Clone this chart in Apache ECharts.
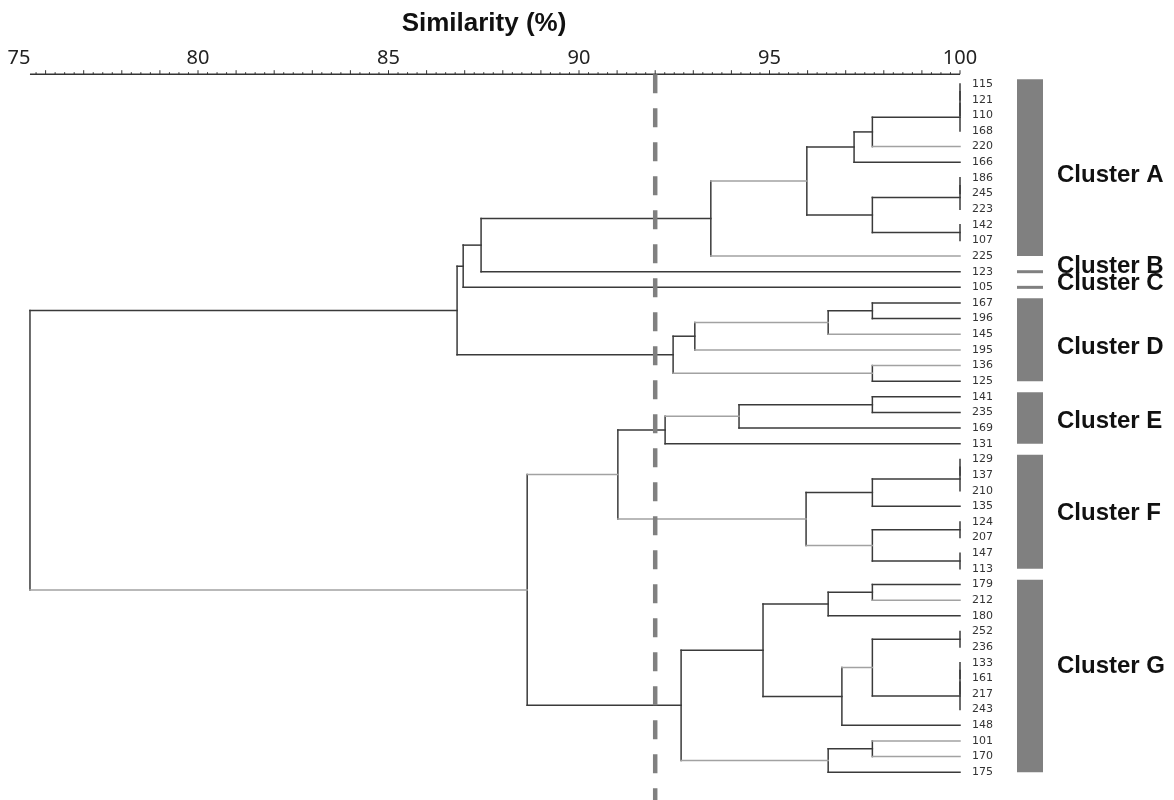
<!DOCTYPE html>
<html>
<head>
<meta charset="utf-8">
<script src="https://cdn.jsdelivr.net/npm/echarts@6/dist/echarts.min.js"></script>
<style>html,body{margin:0;padding:0;background:#fff}#c{width:1174px;height:800px}</style>
</head>
<body>
<div id="c"></div>
<script>
// ---------------- data ----------------
const leaves = ['115','121','110','168','220','166','186','245','223','142','107','225','123','105',
  '167','196','145','195','136','125','141','235','169','131',
  '129','137','210','135','124','207','147','113',
  '179','212','180','252','236','133','161','217','243','148','101','170','175'];

// [node id, child 1, child 2, similarity %]
const merges = [
  ['a1','115','121',100], ['a2','a1','110',100], ['a3','a2','168',100],
  ['a4','a3','220',97.7], ['a5','a4','166',97.22],
  ['a6','186','245',100], ['a7','a6','223',100], ['a8','142','107',100],
  ['a9','a7','a8',97.7], ['a10','a5','a9',95.98], ['a11','a10','225',93.46],
  ['ab','a11','123',87.43], ['abc','ab','105',86.96],
  ['d1','167','196',97.7], ['d2','d1','145',96.54], ['d3','d2','195',93.04],
  ['d4','136','125',97.7], ['d5','d3','d4',92.47],
  ['abcd','abc','d5',86.8],
  ['e1','141','235',97.7], ['e2','e1','169',94.2], ['e3','e2','131',92.26],
  ['f1','129','137',100], ['f2','f1','210',100], ['f3','f2','135',97.7],
  ['f4','124','207',100], ['f5','147','113',100], ['f6','f4','f5',97.7],
  ['f7','f3','f6',95.96], ['ef','e3','f7',91.02],
  ['g1','179','212',97.7], ['g2','g1','180',96.54],
  ['g3','252','236',100], ['g4','133','161',100], ['g5','g4','217',100], ['g6','g5','243',100],
  ['g7','g3','g6',97.7], ['g8','g7','148',96.9], ['g9','g2','g8',94.83],
  ['g10','101','170',97.7], ['g11','g10','175',96.54], ['g12','g9','g11',92.68],
  ['efg','ef','g12',88.64],
  ['root','abcd','efg',75.59]
];

const cutoff = 92;
const axisMin = 75, axisMax = 100, tickStep = 1, minorPerTick = 4, labelStep = 5;

// [cluster name, first leaf, last leaf]
const clusters = [
  ['Cluster A','115','225'], ['Cluster B','123','123'], ['Cluster C','105','105'],
  ['Cluster D','167','125'], ['Cluster E','141','131'], ['Cluster F','129','113'],
  ['Cluster G','179','175']
];

// ---------------- layout / style ----------------
const clusterLabelRow = [5.82, 11.68, 12.72, 16.82, 21.58, 27.43, 37.21];
const lightBranches = new Set(['220','a10','225','d2','145','195','136','d4','e2','ef','f7','f6','efg','g7','g11','101','170','212']);
const DARK = '#3a3a3a', LIGHT = '#a2a2a2';
const AXIS_OFFSET = 2;

// ---------------- build tree segments ----------------
const pos = {};
leaves.forEach((n, i) => { pos[n] = { x: axisMax, y: i }; });
merges.forEach(([id, a, b, s]) => { pos[id] = { x: s, y: (pos[a].y + pos[b].y) / 2 }; });
const segs = [];
merges.forEach(([id, a, b, s]) => {
  segs.push([s, pos[a].y, s, pos[b].y, 0]);
  [a, b].forEach(c => {
    if (pos[c].x > s) segs.push([s, pos[c].y, pos[c].x, pos[c].y, lightBranches.has(c) ? 1 : 0]);
  });
});
const rootSim = pos['root'].x;
const leafIndex = {};
leaves.forEach((n, i) => { leafIndex[n] = i; });
const clusterData = clusters.map(([name, f, l], i) => [leafIndex[f], leafIndex[l], clusterLabelRow[i]]);

// scale bar ticks drawn from the root similarity up to 100 (as in the original scale bar)
const minorStep = tickStep / minorPerTick;
const tickData = [];
for (let k = Math.ceil(rootSim / minorStep); k * minorStep <= axisMax + 1e-9; k++) {
  const v = +(k * minorStep).toFixed(4);
  tickData.push([v, Math.abs(v - Math.round(v)) < 1e-9 ? 1 : 0]);
}

// ---------------- chart ----------------
const chart = echarts.init(document.getElementById('c'), null, { renderer: 'canvas' });
const rowsTop = -0.5, rowsBottom = leaves.length - 0.5;

chart.setOption({
  animation: false,
  backgroundColor: '#fff',
  grid: { left: 7.5, right: 214, top: 76.2, bottom: 20 },
  graphic: [{
    type: 'text', x: 484, y: 24, z: 10,
    style: { text: 'Similarity (%)', font: 'bold 26px "Liberation Sans", Arial, sans-serif',
      fill: '#111', textAlign: 'center', textVerticalAlign: 'middle', align: 'center', verticalAlign: 'middle' }
  }],
  xAxis: {
    type: 'value', position: 'top', offset: AXIS_OFFSET,
    min: axisMin, max: axisMax, interval: tickStep,
    splitLine: { show: false },
    axisLine: { show: false },
    axisTick: { show: false },
    minorTick: { show: false },
    axisLabel: {
      show: true, margin: 6, fontSize: 20, color: '#222', fontFamily: '"Noto Sans", "Open Sans", sans-serif',
      alignMinLabel: 'left',
      formatter: v => (Math.abs(v % labelStep) < 1e-9 ? String(v) : '')
    }
  },
  yAxis: [
    { type: 'value', inverse: true, min: rowsTop, max: rowsBottom, show: false },
    { type: 'category', inverse: true, data: leaves, position: 'right',
      axisLine: { show: false }, axisTick: { show: false }, splitLine: { show: false },
      axisLabel: { margin: 12, fontSize: 11, color: '#333', fontFamily: '"DejaVu Sans", Verdana, sans-serif', interval: 0 } }
  ],
  series: [
    {
      type: 'custom', name: 'scaleLine', yAxisIndex: 0, z: 2, silent: true, clip: false,
      data: [[rootSim, axisMax]],
      renderItem: (params, api) => {
        const x1 = api.coord([api.value(0), 0])[0];
        const x2 = api.coord([api.value(1), 0])[0];
        const y = params.coordSys.y - AXIS_OFFSET;
        return { type: 'line', shape: { x1, y1: y, x2, y2: y }, style: { stroke: '#333', lineWidth: 1.5 } };
      }
    },
    {
      type: 'custom', name: 'scaleTicks', yAxisIndex: 0, z: 2, silent: true, clip: false,
      data: tickData,
      renderItem: (params, api) => {
        const x = api.coord([api.value(0), 0])[0];
        const y = params.coordSys.y - AXIS_OFFSET;
        const len = api.value(1) ? 4 : 2;
        return { type: 'line', shape: { x1: x, y1: y, x2: x, y2: y - len }, style: { stroke: '#333', lineWidth: 1 } };
      }
    },
    {
      type: 'custom', name: 'tree', yAxisIndex: 0, z: 2, silent: true,
      data: segs,
      encode: { x: [0, 2], y: [1, 3] },
      renderItem: (params, api) => {
        const p1 = api.coord([api.value(0), api.value(1)]);
        const p2 = api.coord([api.value(2), api.value(3)]);
        return { type: 'line', shape: { x1: p1[0], y1: p1[1], x2: p2[0], y2: p2[1] },
          style: { stroke: api.value(4) ? LIGHT : DARK, lineWidth: 1.5, lineCap: 'square' } };
      }
    },
    {
      type: 'custom', name: 'cutoff', yAxisIndex: 0, z: 5, silent: true, clip: false,
      data: [[cutoff]],
      renderItem: (params, api) => {
        const x = api.coord([api.value(0), 0])[0];
        return { type: 'line', shape: { x1: x, y1: params.coordSys.y - AXIS_OFFSET, x2: x, y2: api.getHeight() },
          style: { stroke: '#808080', lineWidth: 4.5, lineDash: [19, 15] } };
      }
    },
    {
      type: 'custom', name: 'clusters', yAxisIndex: 0, z: 3, silent: true, clip: false,
      data: clusterData,
      renderItem: (params, api) => {
        const a = api.value(0), b = api.value(1), lab = api.value(2);
        const right = params.coordSys.x + params.coordSys.width;
        const barX = right + 57, barW = 26;
        let y1, y2;
        if (a === b) {
          const yc = api.coord([axisMax, a])[1];
          y1 = yc - 1.5; y2 = yc + 1.5;
        } else {
          y1 = api.coord([axisMax, a - 0.3])[1];
          y2 = api.coord([axisMax, b])[1];
        }
        const ly = api.coord([axisMax, lab])[1];
        return { type: 'group', children: [
          { type: 'rect', shape: { x: barX, y: y1, width: barW, height: y2 - y1 }, style: { fill: '#808080' } },
          { type: 'text', style: { text: clusters[params.dataIndex][0], x: right + 97, y: ly,
              font: 'bold 24px "Liberation Sans", Arial, sans-serif', fill: '#111',
              textAlign: 'left', textVerticalAlign: 'middle', align: 'left', verticalAlign: 'middle' } }
        ] };
      }
    }
  ]
});
</script>
</body>
</html>
